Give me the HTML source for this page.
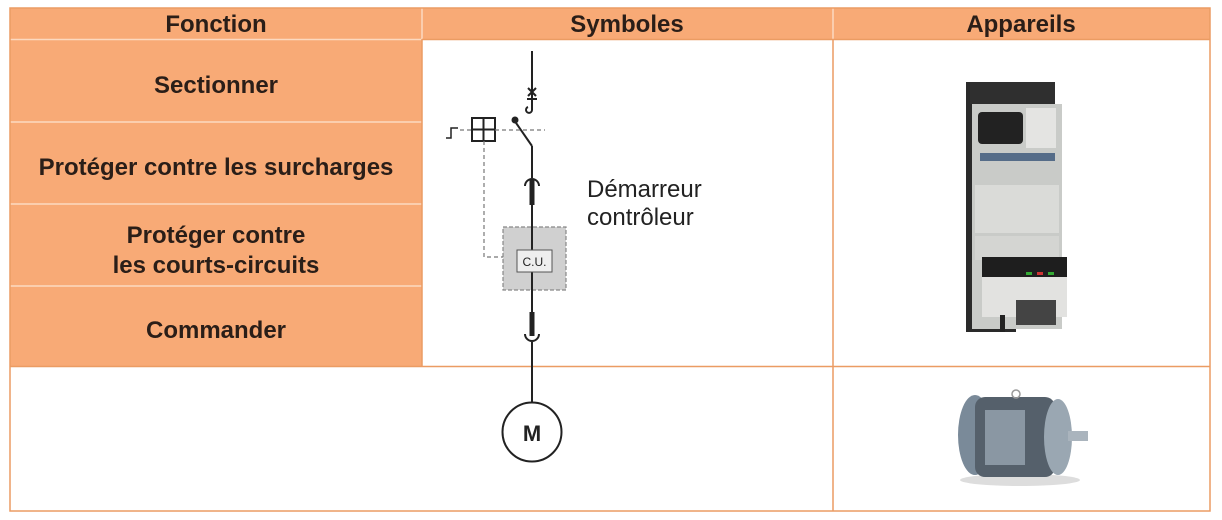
<!DOCTYPE html>
<html><head><meta charset="utf-8"><style>
html,body{margin:0;padding:0;background:#fff;width:1222px;height:520px;overflow:hidden}
svg text{font-family:"Liberation Sans",sans-serif}
</style></head><body>
<svg width="1222" height="520" viewBox="0 0 1222 520" xmlns="http://www.w3.org/2000/svg">
<rect x="10" y="8" width="1200" height="31" fill="#f8aa76"/>
<rect x="10" y="39" width="412" height="327" fill="#f8aa76"/>
<g stroke="#fcd9c0" stroke-width="1.5">
<line x1="10" y1="39.5" x2="422" y2="39.5"/>
<line x1="10" y1="122" x2="422" y2="122"/>
<line x1="10" y1="204" x2="422" y2="204"/>
<line x1="10" y1="286" x2="422" y2="286"/>
<line x1="422" y1="8" x2="422" y2="39"/>
<line x1="833" y1="8" x2="833" y2="39"/>
</g>
<g stroke="#eb9c63" stroke-width="1.5" fill="none">
<rect x="10" y="8" width="1200" height="503"/>
<line x1="422" y1="39" x2="422" y2="366"/>
<line x1="833" y1="39" x2="833" y2="511"/>
<line x1="10" y1="366.5" x2="1210" y2="366.5"/>
<line x1="422" y1="39.5" x2="1210" y2="39.5"/>
</g>
<g font-weight="bold" font-size="24" fill="#2a1e18" text-anchor="middle">
<text x="216" y="32">Fonction</text>
<text x="627" y="32">Symboles</text>
<text x="1021" y="32">Appareils</text>
<text x="216" y="93">Sectionner</text>
<text x="216" y="175">Protéger contre les surcharges</text>
<text x="216" y="243">Protéger contre</text>
<text x="216" y="273">les courts-circuits</text>
<text x="216" y="338">Commander</text>
</g>
<text x="587" y="197" font-size="24" fill="#222">Démarreur</text>
<text x="587" y="225" font-size="24" fill="#222">contrôleur</text>
<rect x="503" y="227" width="63" height="63" fill="#d0d0d0" stroke="#888" stroke-width="1.2" stroke-dasharray="4,2"/>
<g stroke="#222" stroke-width="2" fill="none">
<line x1="532" y1="51" x2="532" y2="110"/>
<line x1="528" y1="88" x2="536" y2="96"/><line x1="536" y1="88" x2="528" y2="96"/>
<line x1="527" y1="99" x2="537" y2="99"/>
<path d="M532 110 a3 3 0 1 1 -4 -3"/>
<line x1="514" y1="120" x2="532" y2="146"/>
<line x1="532" y1="146" x2="532" y2="178"/>
<path d="M525 186 a7 7 0 0 1 14 0"/>
<line x1="532" y1="205" x2="532" y2="250"/>
<line x1="532" y1="272" x2="532" y2="315"/>
<path d="M525 334 a7 7 0 0 0 14 0"/>
<line x1="532" y1="342" x2="532" y2="402"/>
<circle cx="532" cy="432" r="29.5"/>
<rect x="472" y="118" width="23" height="23"/>
<line x1="483.5" y1="118" x2="483.5" y2="141"/><line x1="472" y1="129.5" x2="495" y2="129.5"/>
<path d="M446 138 L451 138 L451 128 L458 128" stroke-width="1.5"/>
</g>
<rect x="529.5" y="180" width="5" height="25" fill="#222"/>
<rect x="529.5" y="312" width="5" height="24" fill="#222"/>
<circle cx="515" cy="120" r="3.5" fill="#222"/>
<g stroke="#777" stroke-width="1.2" stroke-dasharray="4,3" fill="none">
<line x1="460" y1="130" x2="472" y2="130"/>
<line x1="495" y1="130" x2="545" y2="130"/>
<path d="M484 141 L484 257 L503 257"/>
</g>
<rect x="517" y="250" width="35" height="22" fill="#eee" stroke="#555" stroke-width="1"/>
<text x="534.5" y="266" font-size="12" text-anchor="middle" fill="#222">C.U.</text>
<text x="532" y="441" font-size="22" font-weight="bold" text-anchor="middle" fill="#222">M</text>
<rect x="966" y="82" width="50" height="250" fill="#2a2a2a"/>
<rect x="970" y="82" width="85" height="22" fill="#2f2f2f"/>
<rect x="972" y="104" width="90" height="225" fill="#c9cbc8"/>
<rect x="978" y="112" width="45" height="32" fill="#222" rx="4"/>
<rect x="1026" y="108" width="30" height="40" fill="#e4e4e2"/>
<rect x="980" y="153" width="75" height="8" fill="#556c88"/>
<rect x="975" y="185" width="84" height="48" fill="#dadbd8"/>
<rect x="975" y="236" width="84" height="24" fill="#d4d5d2"/>
<rect x="982" y="257" width="85" height="20" fill="#1e1e1e"/>
<rect x="982" y="277" width="85" height="40" fill="#e2e2e0"/>
<rect x="1026" y="272" width="6" height="3" fill="#3a3"/><rect x="1037" y="272" width="6" height="3" fill="#c33"/><rect x="1048" y="272" width="6" height="3" fill="#3a3"/>
<rect x="1016" y="300" width="40" height="25" fill="#444"/>
<rect x="1000" y="315" width="5" height="17" fill="#222"/>
<ellipse cx="1020" cy="480" rx="60" ry="6" fill="#ddd"/>
<ellipse cx="975" cy="435" rx="17" ry="40" fill="#7a8a99"/>
<rect x="975" y="397" width="80" height="80" fill="#55606b" rx="10"/>
<rect x="985" y="410" width="40" height="55" fill="#8a97a3"/>
<ellipse cx="1058" cy="437" rx="14" ry="38" fill="#9aa7b2"/>
<rect x="1068" y="431" width="20" height="10" fill="#aab4bd"/>
<circle cx="1016" cy="394" r="4" fill="none" stroke="#999" stroke-width="1.5"/>
</svg>
</body></html>
